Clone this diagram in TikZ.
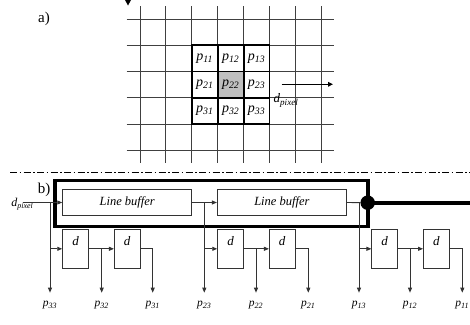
\documentclass[tikz,border=0pt]{standalone}
\usepackage{fontspec}
\setmainfont{Liberation Serif}
\usetikzlibrary{arrows.meta}
\newcommand\plab[2]{\textit{#1}\textsubscript{\textit{#2}}}
\begin{document}
\begin{tikzpicture}[x=1pt,y=-1pt,
  gridline/.style={draw=black!75, line width=0.9pt},
  cellbox/.style={draw=black, line width=1.8pt, minimum width=25.9pt, minimum height=26.26pt, inner sep=0pt, font=\fontsize{14}{16}\selectfont},
  lbuf/.style={draw=black!80, line width=0.9pt, minimum width=129pt, minimum height=26.4pt, inner sep=0pt, font=\fontsize{12.5}{14}\selectfont\itshape},
  dbox/.style={draw=black!80, line width=0.9pt, minimum width=25.6pt, minimum height=39pt, inner sep=0pt, text height=8pt, text depth=14pt, font=\fontsize{13}{15}\selectfont\itshape},
  wire/.style={draw=black!80, line width=0.9pt},
  arr/.style={wire, -{Triangle[length=5pt,width=4pt]}},
  outlab/.style={font=\fontsize{11.5}{13}\selectfont, inner sep=0pt},
  thick frame/.style={draw=black, line width=3.6pt},
]
\useasboundingbox (0,0) rectangle (470,324);
% ---------- part a ----------
\node[font=\fontsize{15}{17}\selectfont] (la) at (44,19) {a)};
\fill (125,0) -- (131,0) -- (128,5.5) -- cycle;
\foreach \i in {0,...,7} {
  \draw[gridline] ({140+25.9*\i},6) -- ({140+25.9*\i},163);
}
\foreach \j in {0,...,5} {
  \draw[gridline] (126.7,{19+26.26*\j}) -- (334,{19+26.26*\j});
}
\foreach \r in {1,2,3} {
  \foreach \c in {1,2,3} {
    \node[cellbox] (p\r\c) at ({191.8+25.9*(\c-0.5)},{45.26+26.26*(\r-0.5)}) {\plab{p}{\r\c}};
  }
}
\fill[black!25] (p22.north west) rectangle (p22.south east);
\node[cellbox] at (p22) {\plab{p}{22}};
\coordinate (aS) at (281.7,84.3);
\coordinate (aE) at (333,84.3);
\draw[line width=1.6pt, -{Triangle[length=5pt,width=4.5pt]}] (aS) -- (aE);
\node[font=\fontsize{13}{15}\selectfont, inner sep=0pt] (dpa) at (286,100.5) {\plab{d}{pixel}};
% ---------- separator ----------
\coordinate (sepL) at (10,172.3);
\coordinate (sepR) at (470,172.3);
\draw[black, line width=0.8pt, dash pattern=on 7pt off 2.5pt on 1.5pt off 2.5pt] (sepL) -- (sepR);
% ---------- part b ----------
\node[font=\fontsize{15}{17}\selectfont] (lb) at (44,189.5) {b)};
\draw[thick frame] (55,180.5) rectangle (368,226.5);
\node[lbuf] (lb1) at (127.2,202.5) {Line buffer};
\node[lbuf] (lb2) at (281.85,202.5) {Line buffer};
\node[circle, fill=black, minimum size=14.5pt, inner sep=0pt] (dot) at (367.7,202.7) {};
\coordinate (rend) at (470,202.7);
\draw[line width=3.6pt] (dot.center) -- (rend);
\foreach \n/\x in {1/75.5,2/127.2,3/230.5,4/282.2,5/384.7,6/436.3} {
  \node[dbox] (d\n) at (\x,248.8) {d};
}
% input
\node[font=\fontsize{12}{14}\selectfont, inner sep=0pt] (dpb) at (22.3,204.5) {\plab{d}{pixel}};
\coordinate (din) at (23,202.5);
\draw[arr] (din) -- (lb1.west);
% tap points and end points
\foreach \k/\x in {33/50,32/101.7,31/152.7,23/204.3,22/256,21/308.3,13/359,12/410,11/462.3} {
  \coordinate (e\k) at (\x,292.7);
  \node[outlab] (o\k) at (\x,305) {\plab{p}{\k}};
}
\coordinate (t1) at (50,202.5);
\coordinate (t2) at (204.3,202.5);
\coordinate (t3) at (359,202.7);
% stage 1
\draw[arr] (t1) -- (e33);
\draw[arr] (t1 |- d1.west) -- (d1.west);
\draw[arr] (d1.east) -- (d2.west);
\draw[arr] (e32 |- d1.east) -- (e32);
\draw[arr] (d2.east) -| (e31);
% stage 2
\draw[arr] (lb1.east) -- (lb2.west);
\draw[arr] (t2) -- (e23);
\draw[arr] (t2 |- d3.west) -- (d3.west);
\draw[arr] (d3.east) -- (d4.west);
\draw[arr] (e22 |- d3.east) -- (e22);
\draw[arr] (d4.east) -| (e21);
% stage 3
\draw[wire] (lb2.east) -- (dot);
\draw[arr] (t3) -- (e13);
\draw[arr] (t3 |- d5.west) -- (d5.west);
\draw[arr] (d5.east) -- (d6.west);
\draw[arr] (e12 |- d5.east) -- (e12);
\draw[arr] (d6.east) -| (e11);
\end{tikzpicture}
\end{document}
